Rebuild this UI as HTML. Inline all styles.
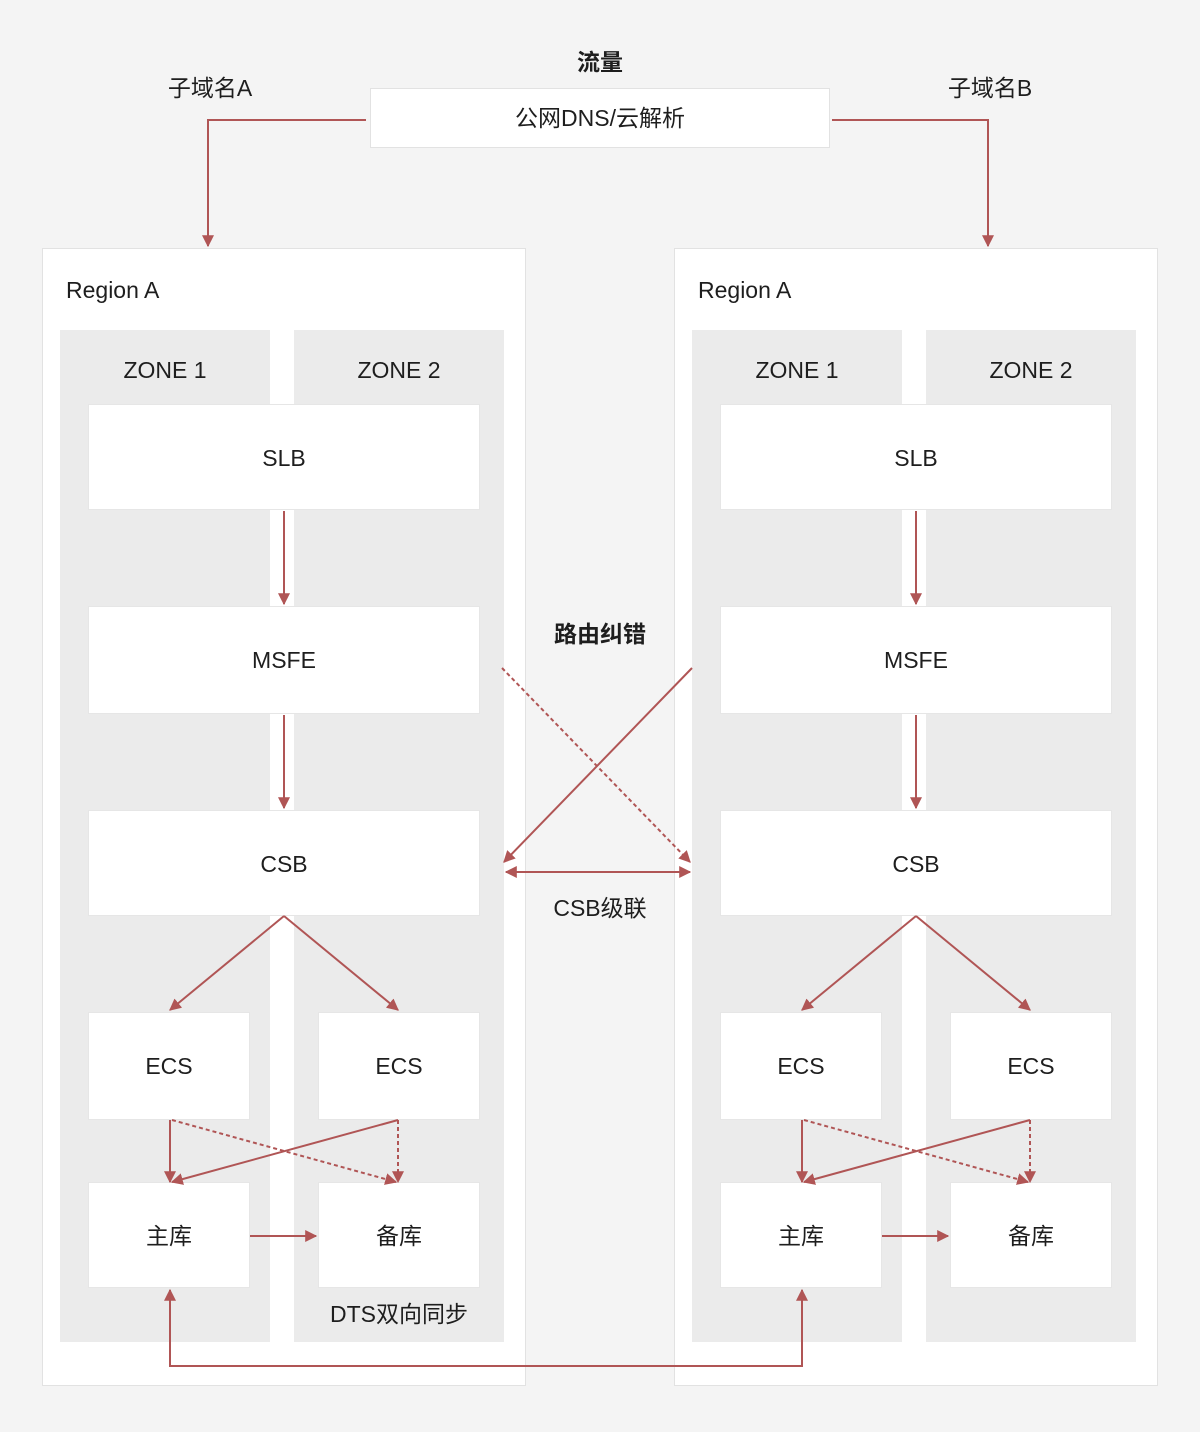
<!DOCTYPE html>
<html><head><meta charset="utf-8"><style>
html,body{margin:0;padding:0;background:#f4f4f4;}
svg{display:block;}
text{font-family:"Liberation Sans","Noto Sans CJK SC",sans-serif;fill:#1e1e1e;font-size:23px;}
</style></head><body>
<svg width="1200" height="1432" viewBox="0 0 1200 1432" xmlns="http://www.w3.org/2000/svg">
<defs>
<marker id="a" viewBox="0 0 10 10" refX="9" refY="5" markerWidth="12" markerHeight="12" markerUnits="userSpaceOnUse" orient="auto-start-reverse">
<path d="M0,0 L10,5 L0,10 z" fill="#b05555"/></marker>
</defs>
<rect width="1200" height="1432" fill="#f4f4f4"/>
<rect x="370.5" y="88.5" width="459" height="59" fill="#fff" stroke="#e2e2e2"/>
<text x="600" y="126" text-anchor="middle">公网DNS/云解析</text>
<text x="600" y="70" text-anchor="middle" font-weight="bold">流量</text>
<text x="210" y="96" text-anchor="middle">子域名A</text>
<text x="990" y="96" text-anchor="middle">子域名B</text>
<g fill="none" stroke="#b05555" stroke-width="2">
<path d="M366,120 H208 V246" marker-end="url(#a)"/>
<path d="M832,120 H988 V246" marker-end="url(#a)"/>
</g>
<g id="R">
<rect x="42.5" y="248.5" width="483" height="1137" fill="#fff" stroke="#e2e2e2"/>
<text x="66" y="298">Region A</text>
<rect x="60" y="330" width="210" height="1012" fill="#ebebeb"/>
<rect x="294" y="330" width="210" height="1012" fill="#ebebeb"/>
<text x="165" y="378" text-anchor="middle">ZONE 1</text>
<text x="399" y="378" text-anchor="middle">ZONE 2</text>
<g fill="#fff" stroke="#e6e6e6">
<rect x="88.5" y="404.5" width="391" height="105"/>
<rect x="88.5" y="606.5" width="391" height="107"/>
<rect x="88.5" y="810.5" width="391" height="105"/>
<rect x="88.5" y="1012.5" width="161" height="107"/>
<rect x="318.5" y="1012.5" width="161" height="107"/>
<rect x="88.5" y="1182.5" width="161" height="105"/>
<rect x="318.5" y="1182.5" width="161" height="105"/>
</g>
<text x="284" y="466" text-anchor="middle">SLB</text>
<text x="284" y="668" text-anchor="middle">MSFE</text>
<text x="284" y="872" text-anchor="middle">CSB</text>
<text x="169" y="1074" text-anchor="middle">ECS</text>
<text x="399" y="1074" text-anchor="middle">ECS</text>
<text x="169" y="1244" text-anchor="middle">主库</text>
<text x="399" y="1244" text-anchor="middle">备库</text>
<g fill="none" stroke="#b05555" stroke-width="2">
<path d="M284,511 V604" marker-end="url(#a)"/>
<path d="M284,715 V808" marker-end="url(#a)"/>
<path d="M284,916 L170,1010" marker-end="url(#a)"/>
<path d="M284,916 L398,1010" marker-end="url(#a)"/>
<path d="M170,1120 V1182" marker-end="url(#a)"/>
<path d="M398,1120 L172,1182" marker-end="url(#a)"/>
<path d="M172,1120 L396,1182" stroke-dasharray="4,3" marker-end="url(#a)"/>
<path d="M398,1120 V1182" stroke-dasharray="4,3" marker-end="url(#a)"/>
<path d="M250,1236 H316" marker-end="url(#a)"/>
</g>
</g>
<use href="#R" transform="translate(632,0)"/>
<text x="399" y="1322" text-anchor="middle">DTS双向同步</text>
<text x="600" y="642" text-anchor="middle" font-weight="bold">路由纠错</text>
<text x="600" y="916" text-anchor="middle">CSB级联</text>
<g fill="none" stroke="#b05555" stroke-width="2">
<path d="M692,668 L504,862" marker-end="url(#a)"/>
<path d="M502,668 L690,862" stroke-dasharray="4,3" marker-end="url(#a)"/>
<path d="M506,872 H690" marker-start="url(#a)" marker-end="url(#a)"/>
<path d="M170,1290 V1366 H802 V1290" marker-start="url(#a)" marker-end="url(#a)"/>
</g>
</svg>
</body></html>
